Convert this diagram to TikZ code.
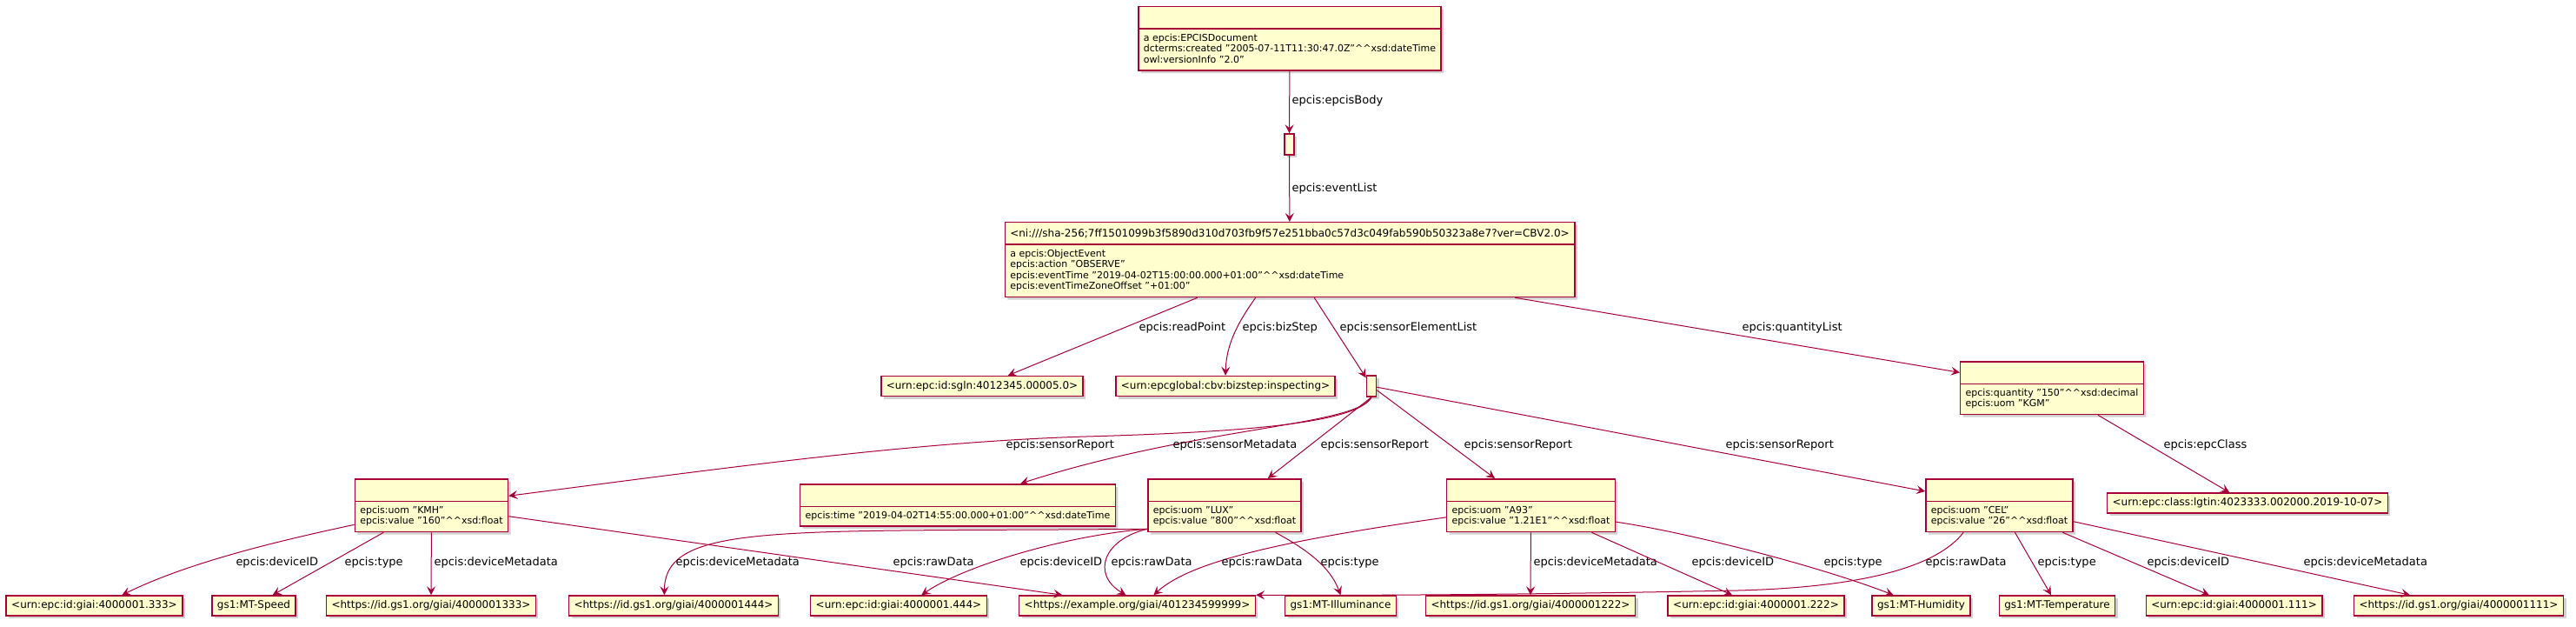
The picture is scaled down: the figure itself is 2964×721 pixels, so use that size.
\documentclass[tikz,border=0pt]{standalone}
\usepackage{fontspec}
\setmainfont{DejaVu Sans}
\usepackage{tikz}
\usetikzlibrary{arrows.meta,shapes.multipart,shadows}

\definecolor{umlred}{HTML}{A80036}
\definecolor{umlfill}{HTML}{FEFECE}

\newcommand{\bodyfont}{\fontsize{5.5}{6.25}\selectfont}
\newcommand{\hdrfont}{\fontsize{6}{7}\selectfont}
\newcommand{\leaffont}{\fontsize{6}{7}\selectfont}
\newcommand{\lblfont}{\fontsize{6.5}{7.5}\selectfont}
\newcommand{\carets}{\textasciicircum\textasciicircum}
\newcommand{\hdr}[1]{\rule[-1.6pt]{0pt}{7.6pt}{\hdrfont #1}}
\newcommand{\rows}[1]{\begin{tabular}{@{}l@{}}#1\end{tabular}}

\tikzstyle{boxshadow}=[drop shadow={shadow xshift=1.5pt,shadow yshift=-1.5pt,opacity=0.18,fill=black}]
\tikzstyle{cls}=[rectangle split, rectangle split parts=2, rectangle split part align={center,left}, draw=umlred, line width=0.75pt, fill=umlfill, inner xsep=3pt, inner ysep=2.2pt, anchor=north, font=\bodyfont, boxshadow]
\tikzstyle{leaf}=[rectangle, draw=umlred, line width=0.75pt, fill=umlfill, inner xsep=3pt, inner ysep=0pt, minimum height=11.5pt, font=\leaffont, boxshadow]
\tikzstyle{blank}=[rectangle, draw=umlred, line width=0.75pt, fill=umlfill, inner sep=0pt, minimum width=5.5pt, minimum height=12pt, boxshadow]
\tikzstyle{rel}=[draw=umlred, line width=0.5pt, -{Stealth[length=5pt,width=5pt,inset=2pt]}]
\tikzstyle{lbl}=[font=\lblfont, inner sep=0pt, anchor=west, text=black]

\begin{document}
\begin{tikzpicture}[x=0.5pt,y=-0.5pt]
	\fill[white] (0,0) rectangle (2964,721);
	\useasboundingbox (0,0) rectangle (2964,721);

	%The document
	\draw (1484,7) node[cls] (doc) {\hdr{}\nodepart{two}\rows{a epcis:EPCISDocument\\ dcterms:created "2005-07-11T11:30:47.0Z"\carets xsd:dateTime\\ owl:versionInfo "2.0"}};
	\draw (1483.5,166) node[blank] (b1) {};

	%The event
	\draw (1484,255) node[cls] (event) {\hdr{<ni:///sha-256;7ff1501099b3f5890d310d703fb9f57e251bba0c57d3c049fab590b50323a8e7?ver=CBV2.0>}\nodepart{two}\rows{a epcis:ObjectEvent\\ epcis:action "OBSERVE"\\ epcis:eventTime "2019-04-02T15:00:00.000+01:00"\carets xsd:dateTime\\ epcis:eventTimeZoneOffset "+01:00"}};

	\draw (1130,444) node[leaf] (sgln) {<urn:epc:id:sgln:4012345.00005.0>};
	\draw (1410,444) node[leaf] (bizstep) {<urn:epcglobal:cbv:bizstep:inspecting>};
	\draw (1578,444) node[blank] (b2) {};
	\draw (2361,415) node[cls] (qty) {\hdr{}\nodepart{two}\rows{epcis:quantity "150"\carets xsd:decimal\\ epcis:uom "KGM"}};
	\draw (2586,578.5) node[leaf] (epcclass) {<urn:epc:class:lgtin:4023333.002000.2019-10-07>};

	%The sensor elements
	\draw (496.5,550) node[cls] (kmh) {\hdr{}\nodepart{two}\rows{epcis:uom "KMH"\\ epcis:value "160"\carets xsd:float}};
	\draw (1102,556) node[cls] (meta) {\hdr{}\nodepart{two}\rows{epcis:time "2019-04-02T14:55:00.000+01:00"\carets xsd:dateTime}};
	\draw (1409,550) node[cls] (lux) {\hdr{}\nodepart{two}\rows{epcis:uom "LUX"\\ epcis:value "800"\carets xsd:float}};
	\draw (1761.5,550) node[cls] (a93) {\hdr{}\nodepart{two}\rows{epcis:uom "A93"\\ epcis:value "1.21E1"\carets xsd:float}};
	\draw (2300.5,550) node[cls] (cel) {\hdr{}\nodepart{two}\rows{epcis:uom "CEL"\\ epcis:value "26"\carets xsd:float}};

	%The bottom row
	\draw (108.5,696.5) node[leaf] (u333) {<urn:epc:id:giai:4000001.333>};
	\draw (292,696.5) node[leaf] (speed) {gs1:MT-Speed};
	\draw (496,696.5) node[leaf] (g1333) {<https://id.gs1.org/giai/4000001333>};
	\draw (775,696.5) node[leaf] (g1444) {<https://id.gs1.org/giai/4000001444>};
	\draw (1034,696.5) node[leaf] (u444) {<urn:epc:id:giai:4000001.444>};
	\draw (1308.5,696.5) node[leaf] (ex) {<https://example.org/giai/401234599999>};
	\draw (1542.5,696.5) node[leaf] (illum) {gs1:MT-Illuminance};
	\draw (1761,696.5) node[leaf] (g1222) {<https://id.gs1.org/giai/4000001222>};
	\draw (2020.5,696.5) node[leaf] (u222) {<urn:epc:id:giai:4000001.222>};
	\draw (2210.5,696.5) node[leaf] (humid) {gs1:MT-Humidity};
	\draw (2367,696.5) node[leaf] (temp) {gs1:MT-Temperature};
	\draw (2570.5,696.5) node[leaf] (u111) {<urn:epc:id:giai:4000001.111>};
	\draw (2829,696.5) node[leaf] (g1111) {<https://id.gs1.org/giai/4000001111>};

	%The document edges
	\draw[rel] (doc) -- (b1) node[lbl] at (1486,116) {epcis:epcisBody};
	\draw[rel] (b1) -- (event) node[lbl] at (1486,217) {epcis:eventList};

	%The event edges
	\draw[rel] (event) -- (sgln) node[lbl] at (1310,377) {epcis:readPoint};
	\draw[rel] (event.-132) .. controls (1425,370) and (1411,395) .. (bizstep.north) node[lbl] at (1429,377) {epcis:bizStep};
	\draw[rel] (event) -- (b2) node[lbl] at (1541,377) {epcis:sensorElementList};
	\draw[rel] (event) -- (qty) node[lbl] at (2004,377) {epcis:quantityList};
	\draw[rel] (qty) -- (epcclass) node[lbl] at (2489,512) {epcis:epcClass};

	%The sensor element list edges
	\draw[rel] (b2.south) .. controls (1560,488) and (1420,497) .. (1250,502) .. controls (1050,508) and (836,538) .. (kmh.7) node[lbl] at (1157,512) {epcis:sensorReport};
	\draw[rel] (b2.south) .. controls (1560,490) and (1380,490) .. (meta.19) node[lbl] at (1349,512) {epcis:sensorMetadata};
	\draw[rel] (b2.south) -- (lux.32) node[lbl] at (1519,512) {epcis:sensorReport};
	\draw[rel] (b2) -- (a93) node[lbl] at (1684,512) {epcis:sensorReport};
	\draw[rel] (b2) -- (cel) node[lbl] at (1985,512) {epcis:sensorReport};

	%KMH
	\draw[rel] (kmh.-166) .. controls (330,620) and (220,645) .. (u333.21) node[lbl] at (271,647) {epcis:deviceID};
	\draw[rel] (kmh) -- (speed) node[lbl] at (396,647) {epcis:type};
	\draw[rel] (kmh) -- (g1333) node[lbl] at (499,647) {epcis:deviceMetadata};
	\draw[rel] (kmh) -- (ex) node[lbl] at (1027,647) {epcis:rawData};

	%LUX
	\draw[rel] (lux.-163) .. controls (900,612) and (765,600) .. (g1444.131) node[lbl] at (777,647) {epcis:deviceMetadata};
	\draw[rel] (lux.-163) .. controls (1230,615) and (1110,650) .. (u444.25) node[lbl] at (1173,647) {epcis:deviceID};
	\draw[rel] (lux.-163) .. controls (1270,620) and (1255,660) .. (ex.137) node[lbl] at (1278,647) {epcis:rawData};
	\draw[rel] (lux.-28) .. controls (1500,630) and (1530,650) .. (illum.north) node[lbl] at (1519,647) {epcis:type};

	%A93
	\draw[rel] (a93.-172) .. controls (1450,625) and (1365,650) .. (ex.33) node[lbl] at (1405,647) {epcis:rawData};
	\draw[rel] (a93) -- (g1222) node[lbl] at (1764,647) {epcis:deviceMetadata};
	\draw[rel] (a93) -- (u222) node[lbl] at (1946,647) {epcis:deviceID};
	\draw[rel] (a93.-11) .. controls (1940,612) and (2090,650) .. (humid.159) node[lbl] at (2098,647) {epcis:type};

	%CEL
	\draw[rel] (cel.-143) .. controls (2230,650) and (2150,675) .. (2000,679) .. controls (1800,683) and (1600,685) .. (ex.north east) node[lbl] at (2215,647) {epcis:rawData};
	\draw[rel] (cel) -- (temp) node[lbl] at (2344,647) {epcis:type};
	\draw[rel] (cel) -- (u111) node[lbl] at (2470,647) {epcis:deviceID};
	\draw[rel] (cel) -- (g1111) node[lbl] at (2650,647) {epcis:deviceMetadata};
\end{tikzpicture}
\end{document}
